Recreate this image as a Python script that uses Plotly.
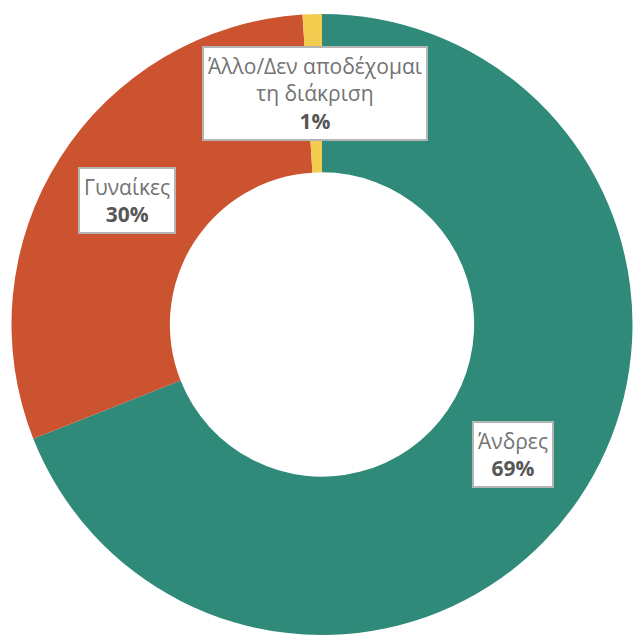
import math

import plotly.graph_objects as go

labels = ["Άνδρες", "Γυναίκες", "Άλλο/Δεν αποδέχομαι τη διάκριση"]
box_text = ["Άνδρες", "Γυναίκες", "Άλλο/Δεν αποδέχομαι<br>τη διάκριση"]
values = [69, 30, 1]
colors = ["#2f8a7a", "#cc5330", "#f2cb4f"]

W, H = 633, 635
dom_x = [11 / W, 1.0]
dom_y = [0.0, 1 - 14 / H]
hole = 0.49

fig = go.Figure()
fig.add_trace(
    go.Pie(
        labels=labels,
        values=values,
        hole=hole,
        sort=False,
        direction="clockwise",
        rotation=0,
        marker=dict(colors=colors, line=dict(width=0)),
        textinfo="none",
        hoverinfo="label+percent",
        domain=dict(x=dom_x, y=dom_y),
        showlegend=False,
    )
)

# label boxes at the middle of each ring segment
cx = (dom_x[0] + dom_x[1]) / 2 * W
cy = (1 - (dom_y[0] + dom_y[1]) / 2) * H
radius = min((dom_x[1] - dom_x[0]) * W, (dom_y[1] - dom_y[0]) * H) / 2
r_mid = radius * (1 + hole) / 2
total = sum(values)
cum = 0
for name, v in zip(box_text, values):
    ang = 2 * math.pi * (cum + v / 2) / total
    cum += v
    px = cx + r_mid * math.sin(ang)
    py = cy - r_mid * math.cos(ang)
    fig.add_annotation(
        x=px / W,
        y=1 - py / H,
        xref="paper",
        yref="paper",
        xanchor="center",
        yanchor="middle",
        text=f"{name}<br><b style='color:#575757'>{round(100 * v / total)}%</b>",
        showarrow=False,
        font=dict(family="Open Sans", size=21, color="#737373"),
        bgcolor="white",
        bordercolor="#b4b4b4",
        borderwidth=2,
        borderpad=4,
        align="center",
    )

fig.update_layout(
    width=W,
    height=H,
    margin=dict(l=0, r=0, t=0, b=0),
    paper_bgcolor="white",
    font=dict(family="Open Sans"),
)
fig.write_html(
    "out.html",
    config={"displayModeBar": False},
    post_script="document.body.style.margin='0';document.body.style.overflow='hidden';",
)
